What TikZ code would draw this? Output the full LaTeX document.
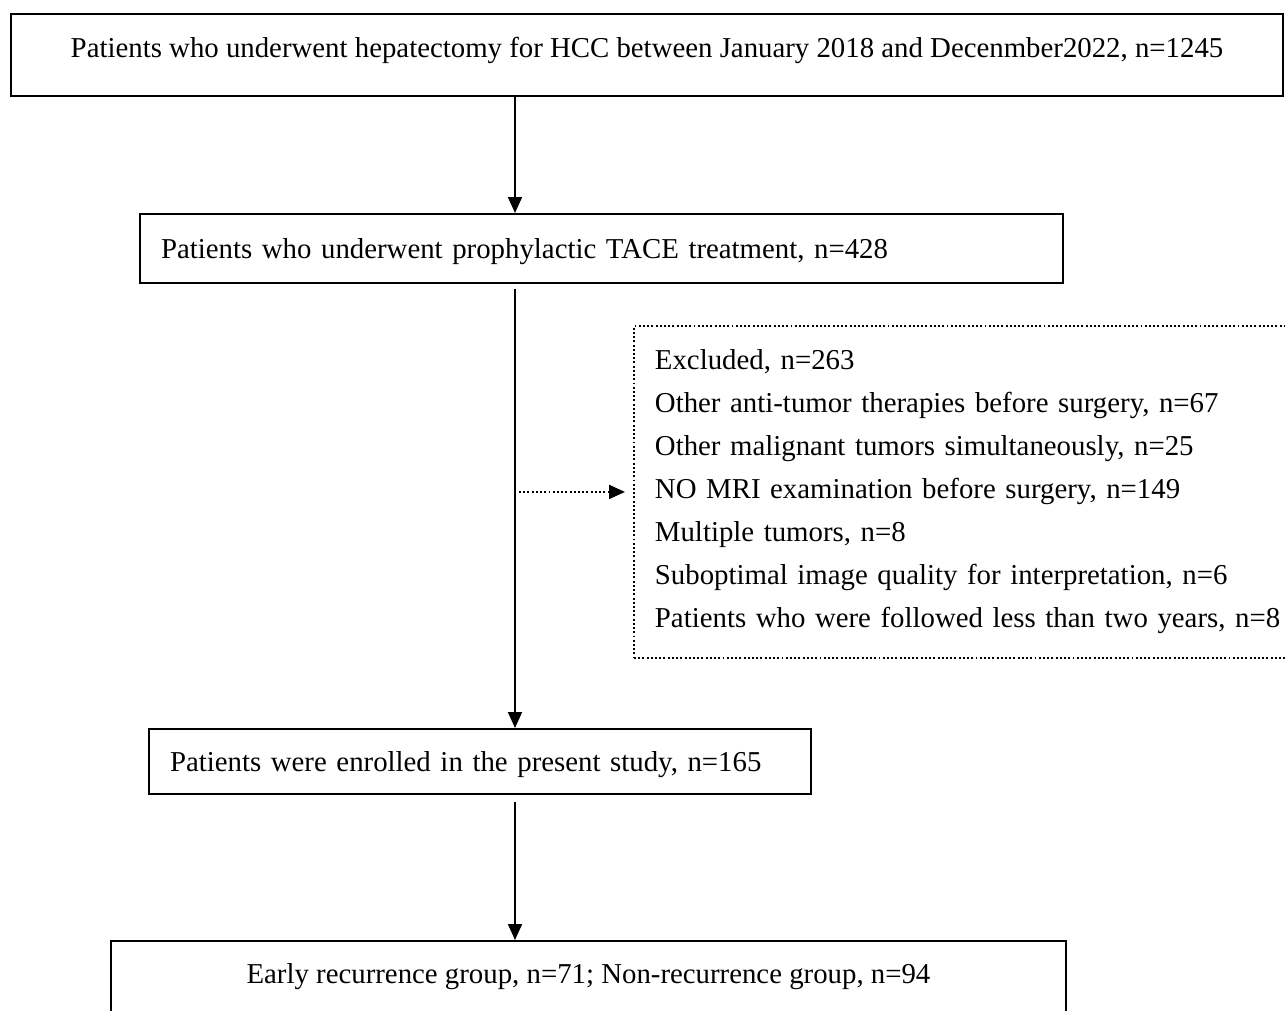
\documentclass[tikz,border=0pt]{standalone}
\usepackage{fontspec}
\setmainfont{Liberation Serif}
\usetikzlibrary{arrows.meta,positioning}

\begin{document}
\begin{tikzpicture}[
  x=0.02cm, y=-0.02cm,
  every node/.style={font=\fontsize{16.4}{24.5}\selectfont},
  box/.style={draw, line width=1.2pt, inner xsep=0.42cm, inner ysep=0pt,
              align=left, text height=0.42cm, text depth=0.04cm},
  exclbox/.style={draw, line width=1.1pt, dash pattern=on 1.1pt off 1.3pt,
                  inner xsep=0.42cm, inner ysep=0pt, align=left},
  arrow/.style={-{Triangle[length=0.32cm, width=0.28cm]}, line width=1.1pt},
  dotarrow/.style={arrow, dash pattern=on 1.1pt off 1.3pt}
]
  \useasboundingbox (0,0) rectangle (1285,1011);
  \clip (0,0) rectangle (1285,1011);

  \coordinate (trunk) at (515,0);

  \node[box, align=center, minimum width=25.44cm, minimum height=1.64cm,
        text depth=0.34cm] (hepat) at (647,55)
    {Patients who underwent hepatectomy for HCC between January 2018 and Decenmber2022, n=1245};
  \node[box, anchor=north west, text width=17.62cm, minimum height=1.38cm] (tace) at (139,213)
    {Patients who underwent prophylactic TACE treatment, n=428};
  \node[exclbox, anchor=north west, text width=14cm, minimum height=6.64cm] (excl) at (633,325)
    {Excluded, n=263\\
     Other anti-tumor therapies before surgery, n=67\\
     Other malignant tumors simultaneously, n=25\\
     NO MRI examination before surgery, n=149\\
     Multiple tumors, n=8\\
     Suboptimal image quality for interpretation, n=6\\
     Patients who were followed less than two years, n=8};
  \node[box, anchor=north west, text width=12.4cm, minimum height=1.3cm] (enrol) at (148,728)
    {Patients were enrolled in the present study, n=165};
  \node[box, align=center, anchor=north west, minimum width=19.1cm, minimum height=1.7cm,
        text height=0.25cm, text depth=0.25cm] (groups) at (110,940)
    {Early recurrence group, n=71; Non-recurrence group, n=94};

  \draw[arrow] (hepat.south -| trunk) -- (tace.north -| trunk);
  \draw[arrow, shorten <=0.1cm] (tace.south -| trunk) -- (enrol.north -| trunk);
  \draw[dotarrow, shorten >=0.16cm] ([xshift=0.08cm]trunk |- excl.west) -- (excl.west);
  \draw[arrow, shorten <=0.14cm] (enrol.south -| trunk) -- (groups.north -| trunk);
\end{tikzpicture}
\end{document}
